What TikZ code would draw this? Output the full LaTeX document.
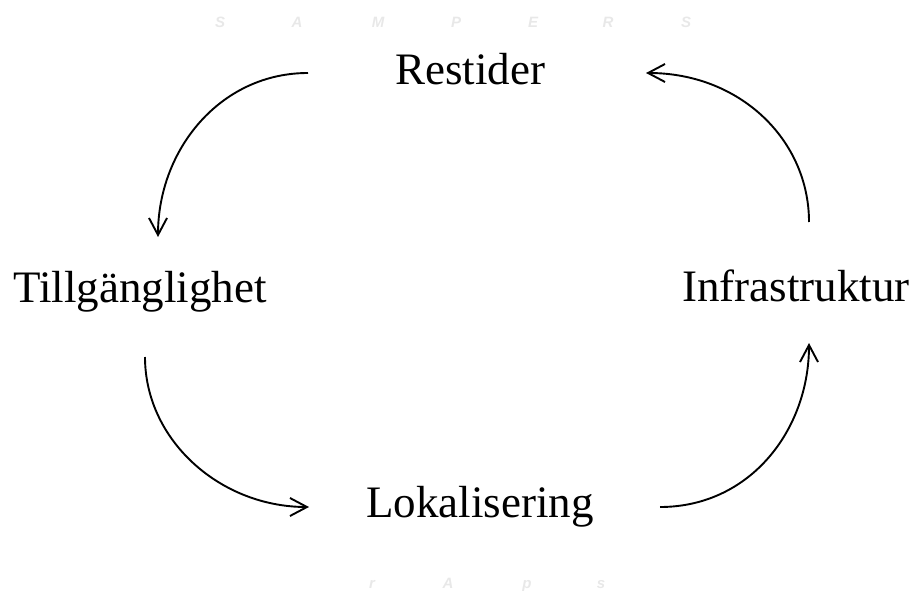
\documentclass[tikz,border=0pt]{standalone}
\usepackage{fontspec}
\setmainfont{Liberation Serif}
\newfontfamily\wmfont{Liberation Sans}
\usetikzlibrary{arrows.meta}
\definecolor{wmgray}{HTML}{E8E8E8}
\begin{document}
\begin{tikzpicture}[x=1pt,y=-1pt,
  lbl/.style={anchor=base,inner sep=0pt,font=\fontsize{45}{54}\selectfont},
  wm/.style={anchor=base,inner sep=0pt,text=wmgray,font=\wmfont\bfseries\itshape\fontsize{15}{18}\selectfont},
  cyc/.style={line width=1.9pt,-{Straight Barb[length=17pt,width=18pt,line width=1.9pt]}}]
\useasboundingbox (0,0) rectangle (912,591);
% watermark
\foreach \t/\x [count=\i] in {S/220,A/297,M/378,P/456,E/533,R/608,S/686}
  \node[wm] (wt\i) at (\x,28) {\t};
\foreach \t/\x [count=\i] in {r/372,A/448,p/527,s/601}
  \node[wm] (wb\i) at (\x,588) {\t};
% labels
\node[lbl] (res) at (470,85) {Restider};
\node[lbl] (til) at (140,302) {Tillgänglighet};
\node[lbl] (inf) at (796,301) {Infrastruktur};
\node[lbl] (lok) at (480,517) {Lokalisering};
% arrow ends
\coordinate (a1s) at (308,73);
\coordinate (a1e) at (158,237);
\coordinate (a2s) at (809,222);
\coordinate (a2e) at (646,73);
\coordinate (a3s) at (145,357);
\coordinate (a3e) at (309,507);
\coordinate (a4s) at (660,507);
\coordinate (a4e) at (809,343);
\draw[cyc] (a1s) .. controls (220,73) and (158,150) .. (a1e);
\draw[cyc] (a2s) .. controls (809,140) and (740,73) .. (a2e);
\draw[cyc] (a3s) .. controls (145,440) and (220,507) .. (a3e);
\draw[cyc] (a4s) .. controls (750,507) and (809,430) .. (a4e);
\end{tikzpicture}
\end{document}
